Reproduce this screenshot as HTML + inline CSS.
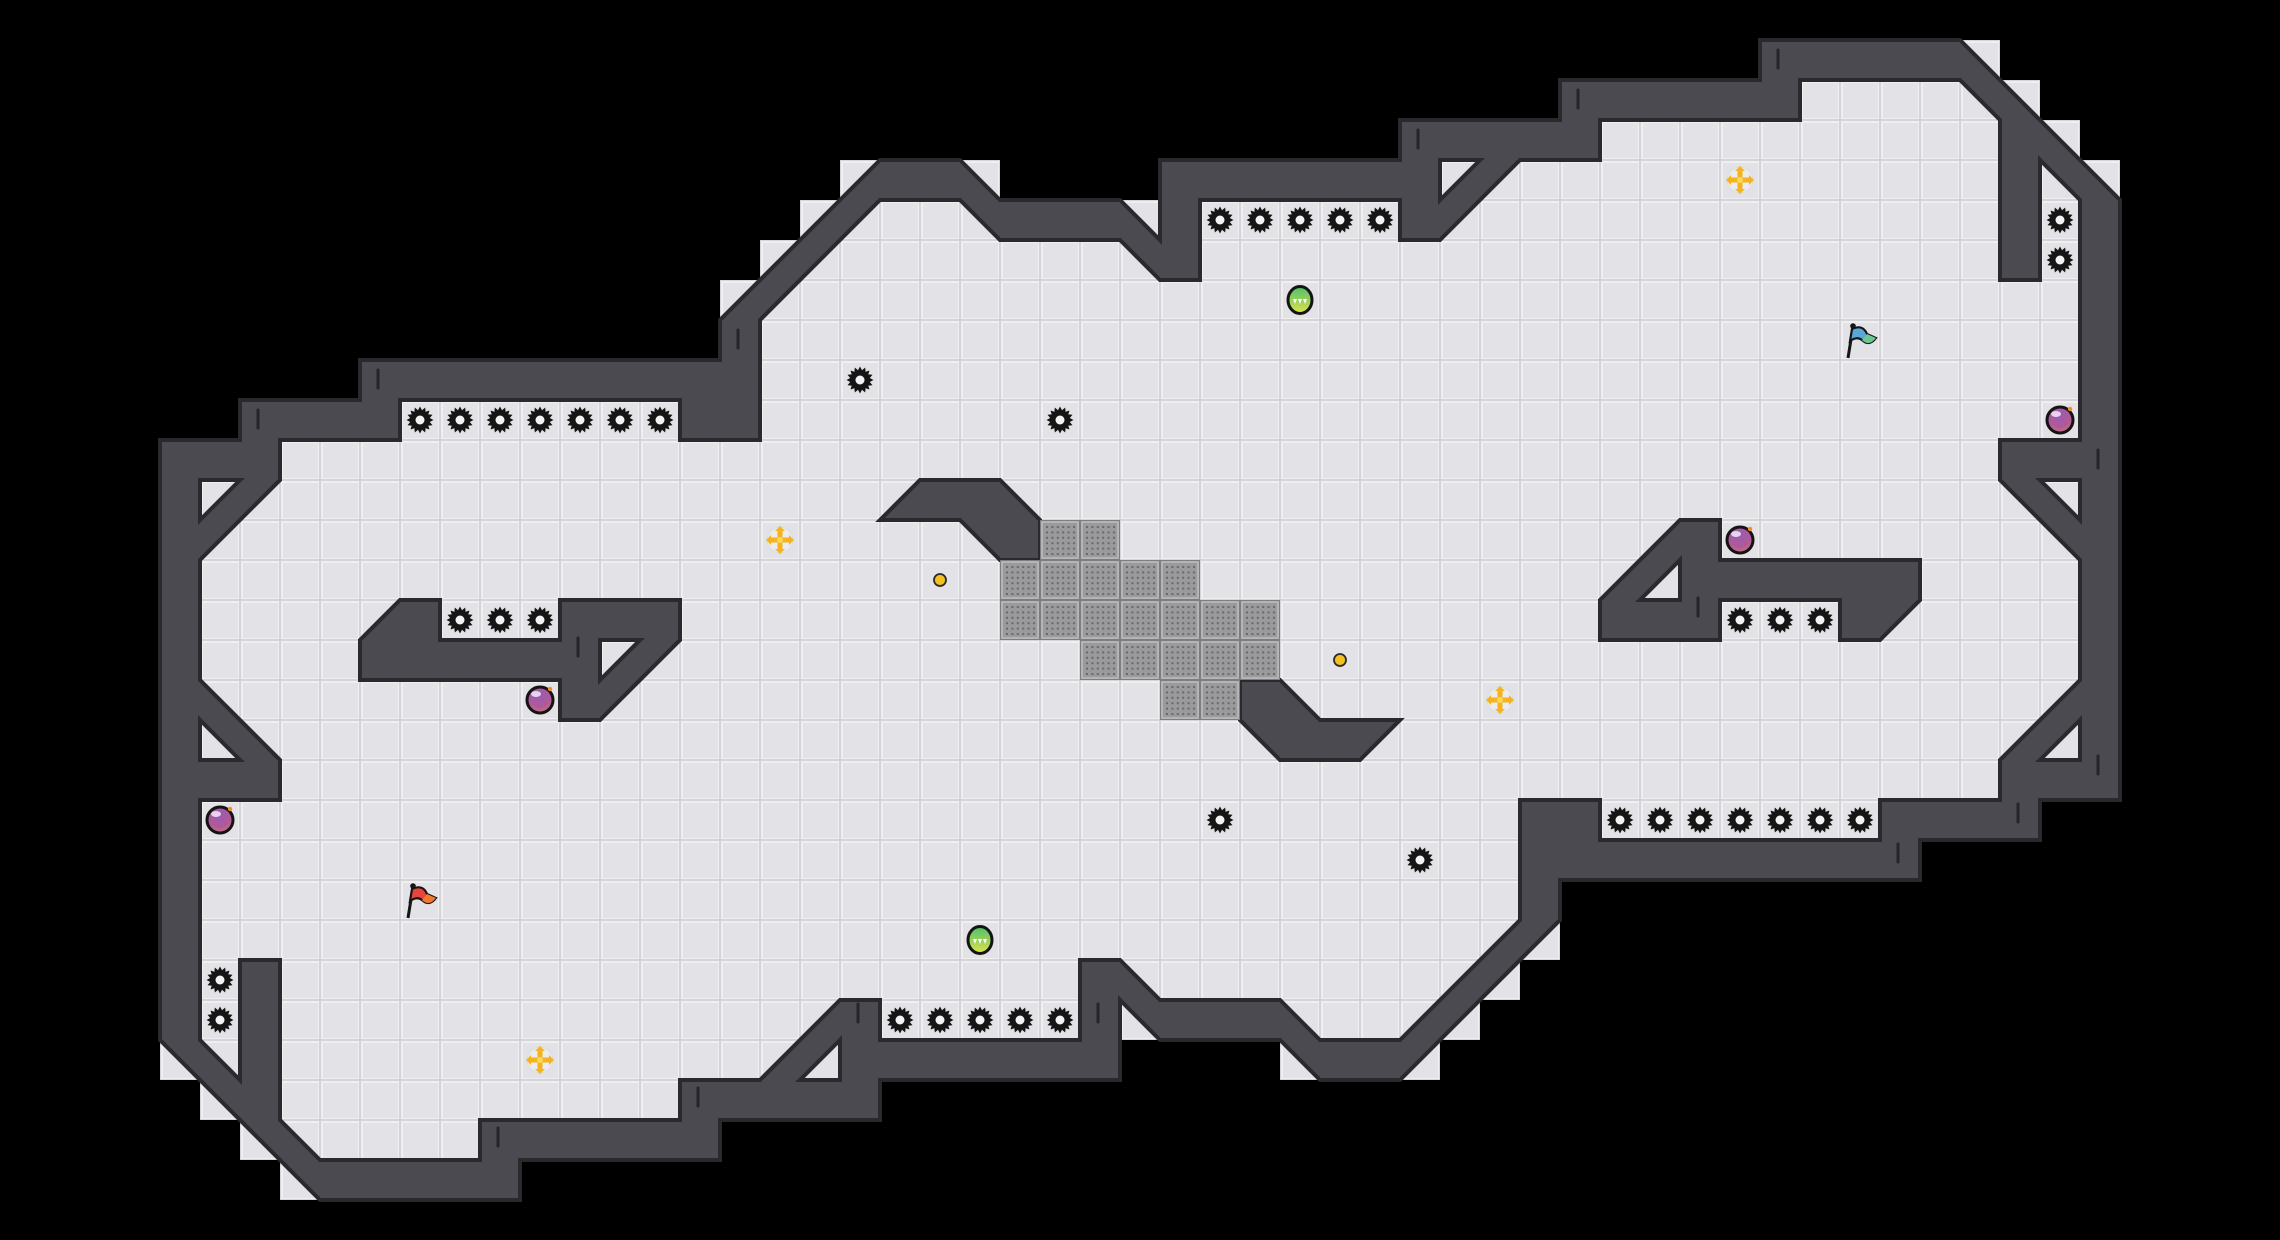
<!DOCTYPE html>
<html><head><meta charset="utf-8">
<style>
html,body{margin:0;padding:0;background:#000;}
#wrap{width:2280px;height:1240px;overflow:hidden;background:#000;}
</style></head>
<body><div id="wrap"></div>
<script>
var S=40;
var O=[[22,4],[24,4],[25,5],[28,5],[29,6],[29,4],[35,4],[35,3],[39,3],[39,2],[44,2],[44,1],[49,1],[53,5],[53,20],[51,20],[51,21],[48,21],[48,22],[39,22],[39,23],[35,27],[33,27],[32,26],[29,26],[28,25],[28,27],[22,27],[22,28],[18,28],[18,29],[13,29],[13,30],[8,30],[4,26],[4,11],[6,11],[6,10],[9,10],[9,9],[18,9],[18,8]];
var I=[[19,8],[22,5],[24,5],[25,6],[28,6],[29,7],[30,7],[30,5],[35,5],[35,6],[36,6],[38,4],[40,4],[40,3],[45,3],[45,2],[49,2],[50,3],[50,7],[51,7],[51,4],[52,5],[52,11],[50,11],[50,12],[52,14],[52,17],[50,19],[50,20],[47,20],[47,21],[40,21],[40,20],[38,20],[38,23],[35,26],[33,26],[32,25],[29,25],[28,24],[27,24],[27,26],[22,26],[22,25],[21,25],[19,27],[17,27],[17,28],[12,28],[12,29],[8,29],[7,28],[7,24],[6,24],[6,27],[5,26],[5,20],[7,20],[7,19],[5,17],[5,14],[7,12],[7,11],[10,11],[10,10],[17,10],[17,11],[19,11]];
var pockets=[[[5,12],[6,12],[5,13]],[[5,18],[5,19],[6,19]],[[36,4],[37,4],[36,5]],[[51,12],[52,12],[52,13]],[[51,19],[52,19],[52,18]],[[21,26],[21,27],[20,27]],[[15,16],[16,16],[15,17]],[[42,14],[42,15],[41,15]]];
var islands=[
[[9,16],[10,15],[11,15],[11,16],[14,16],[14,15],[17,15],[17,16],[15,18],[14,18],[14,17],[9,17]],
[[22,13],[23,12],[25,12],[26,13],[26,14],[25,14],[24,13]],
[[31,17],[32,17],[33,18],[35,18],[34,19],[32,19],[31,18]],
[[40,15],[42,13],[43,13],[43,14],[48,14],[48,15],[47,16],[46,16],[46,15],[43,15],[43,16],[40,16]]
];
function pts(p){return p.map(function(q){return (q[0]*S)+','+(q[1]*S);}).join(' ');}
function pathd(p){return 'M'+p.map(function(q){return (q[0]*S)+' '+(q[1]*S);}).join('L')+'Z';}
function inside(x,y,p){var c=false;for(var i=0,j=p.length-1;i<p.length;j=i++){var xi=p[i][0],yi=p[i][1],xj=p[j][0],yj=p[j][1];if(((yi>y)!=(yj>y))&&(x<(xj-xi)*(y-yi)/(yj-yi)+xi))c=!c;}return c;}
var s='<svg xmlns="http://www.w3.org/2000/svg" width="2280" height="1240" viewBox="0 0 2280 1240">';
s+='<defs>';
s+='<pattern id="fl" patternUnits="userSpaceOnUse" width="40" height="40"><rect width="40" height="40" fill="#d3d3d8"/><rect x="1" y="1" width="38" height="38" fill="#efeff1"/><rect x="3" y="3" width="35" height="35" fill="#e3e3e7"/></pattern>';
s+='<pattern id="gr" patternUnits="userSpaceOnUse" width="40" height="40"><rect width="40" height="40" fill="#7d7d80"/><rect x="1" y="1" width="38" height="38" fill="#b4b4b6"/><rect x="3" y="3" width="34" height="34" fill="#9a9a9c"/>';
for(var a=0;a<6;a++)for(var b=0;b<6;b++)s+='<rect x="'+(6+a*5.4)+'" y="'+(6+b*5.4)+'" width="2" height="2" fill="#6a6a6d"/>';
s+='</pattern>';
s+='<radialGradient id="bomb" cx="0.45" cy="0.3" r="0.8"><stop offset="0" stop-color="#9a5ab8"/><stop offset="0.6" stop-color="#b05a96"/><stop offset="1" stop-color="#d8806a"/></radialGradient>';
s+='<linearGradient id="coin" x1="0" y1="0" x2="0" y2="1"><stop offset="0" stop-color="#4cbf6a"/><stop offset="1" stop-color="#dfe348"/></linearGradient>';
s+='</defs>';
for(var cx=0;cx<57;cx++)for(var cy=0;cy<31;cy++){
 var off=[[0.2,0.2],[0.8,0.2],[0.2,0.8],[0.8,0.8],[0.5,0.5]],hit=false;
 for(var k=0;k<off.length;k++)if(inside(cx+off[k][0],cy+off[k][1],O)){hit=true;break;}
 if(hit)s+='<rect x="'+cx*S+'" y="'+cy*S+'" width="40" height="40" fill="url(#fl)"/>';
}
s+='<path d="'+pathd(O)+pathd(I)+'" fill="#4b4a50" fill-rule="evenodd" stroke="#2a292e" stroke-width="4" stroke-linejoin="miter"/>';
islands.forEach(function(p){s+='<polygon points="'+pts(p)+'" fill="#4b4a50" stroke="#2a292e" stroke-width="4"/>';});
pockets.forEach(function(p){s+='<polygon points="'+pts(p)+'" fill="url(#fl)" stroke="#2a292e" stroke-width="4"/>';});
[[44.45,1.25],[39.45,2.25],[35.45,3.25],[18.45,8.25],[9.45,9.25],[6.45,10.25],[52.45,11.25],[52.45,18.9],[50.45,20.1],[47.45,21.1],[42.45,14.95],[14.45,15.95],[27.45,25.1],[21.45,25.1],[17.45,27.2],[12.45,28.2]].forEach(function(t){
 s+='<line x1="'+t[0]*S+'" y1="'+t[1]*S+'" x2="'+t[0]*S+'" y2="'+(t[1]*S+18)+'" stroke="#252428" stroke-width="3" stroke-linecap="round"/>';});
var grates=[[26,13],[27,13],[25,14],[26,14],[27,14],[28,14],[29,14],[25,15],[26,15],[27,15],[28,15],[29,15],[30,15],[31,15],[27,16],[28,16],[29,16],[30,16],[31,16],[29,17],[30,17]];
grates.forEach(function(g){s+='<rect x="'+g[0]*S+'" y="'+g[1]*S+'" width="40" height="40" fill="url(#gr)"/>';});
function gear(cx,cy){var n=16,ro=13.5,ri=10,d='';for(var i=0;i<n*2;i++){var r=i%2?ri:ro,a=Math.PI*i/n;d+=(i?'L':'M')+(cx+r*Math.cos(a)).toFixed(1)+' '+(cy+r*Math.sin(a)).toFixed(1);}
 return '<path d="'+d+'Z" fill="#151515"/><circle cx="'+cx+'" cy="'+cy+'" r="4.5" fill="#f2f2f4"/>';}
var spikes=[];
for(var i=10;i<=16;i++)spikes.push([i,10]);
spikes.push([21,9],[26,10]);
for(i=30;i<=34;i++)spikes.push([i,5]);
spikes.push([51,5],[51,6]);
for(i=11;i<=13;i++)spikes.push([i,15]);
for(i=43;i<=45;i++)spikes.push([i,15]);
for(i=40;i<=46;i++)spikes.push([i,20]);
spikes.push([30,20],[35,21],[5,24],[5,25]);
for(i=22;i<=26;i++)spikes.push([i,25]);
spikes.forEach(function(p){s+=gear(p[0]*S+20,p[1]*S+20);});
function plus(cx,cy){return '<circle cx="'+cx+'" cy="'+cy+'" r="13" fill="#ececf0" stroke="#dcdce2" stroke-width="1.5"/>'+
 '<rect x="'+(cx-11)+'" y="'+(cy-2.5)+'" width="22" height="5" fill="#f5b41e"/><rect x="'+(cx-2.5)+'" y="'+(cy-11)+'" width="5" height="22" fill="#f5b41e"/>'+
 '<polygon points="'+(cx-14)+','+cy+' '+(cx-9)+','+(cy-5)+' '+(cx-9)+','+(cy+5)+'" fill="#f5b41e"/>'+
 '<polygon points="'+(cx+14)+','+cy+' '+(cx+9)+','+(cy-5)+' '+(cx+9)+','+(cy+5)+'" fill="#f5b41e"/>'+
 '<polygon points="'+cx+','+(cy-14)+' '+(cx-5)+','+(cy-9)+' '+(cx+5)+','+(cy-9)+'" fill="#f5b41e"/>'+
 '<polygon points="'+cx+','+(cy+14)+' '+(cx-5)+','+(cy+9)+' '+(cx+5)+','+(cy+9)+'" fill="#f5b41e"/>'+
 '<circle cx="'+cx+'" cy="'+cy+'" r="3" fill="#fcd85a"/>';}
[[19,13],[43,4],[37,17],[13,26]].forEach(function(p){s+=plus(p[0]*S+20,p[1]*S+20);});
function bomb(cx,cy){return '<circle cx="'+cx+'" cy="'+cy+'" r="13" fill="url(#bomb)" stroke="#141414" stroke-width="3"/>'+
 '<ellipse cx="'+(cx-4)+'" cy="'+(cy-6)+'" rx="5" ry="3" fill="#fff" opacity="0.75"/>'+
 '<circle cx="'+(cx+10)+'" cy="'+(cy-11)+'" r="2.2" fill="#f08a2a"/>';}
[[13,17],[51,10],[43,13],[5,20]].forEach(function(p){s+=bomb(p[0]*S+20,p[1]*S+20);});
function coin(cx,cy){return '<ellipse cx="'+cx+'" cy="'+cy+'" rx="12" ry="13.5" fill="url(#coin)" stroke="#141414" stroke-width="3"/>'+
 '<polygon points="'+(cx-7)+','+(cy-1)+' '+(cx-3)+','+(cy-1)+' '+(cx-5)+','+(cy+4)+'" fill="#fff"/>'+
 '<polygon points="'+(cx-2)+','+(cy-1)+' '+(cx+2)+','+(cy-1)+' '+cx+','+(cy+4)+'" fill="#fff"/>'+
 '<polygon points="'+(cx+3)+','+(cy-1)+' '+(cx+7)+','+(cy-1)+' '+(cx+5)+','+(cy+4)+'" fill="#fff"/>';}
[[32,7],[24,23]].forEach(function(p){s+=coin(p[0]*S+20,p[1]*S+20);});
[[23,14],[33,16]].forEach(function(p){s+='<circle cx="'+(p[0]*S+20)+'" cy="'+(p[1]*S+20)+'" r="6" fill="#f4c020" stroke="#2a2a2a" stroke-width="1.8"/>';});
function flag(cx,cy,c1,c2){return '<line x1="'+(cx-12)+'" y1="'+(cy+18)+'" x2="'+(cx-7)+'" y2="'+(cy-13)+'" stroke="#151515" stroke-width="3"/>'+
 '<path d="M'+(cx-8)+' '+(cy-11)+' Q'+(cx+3)+' '+(cy-16)+' '+(cx+7)+' '+(cy-6)+' L'+(cx+16)+' '+(cy-2)+' Q'+(cx+9)+' '+(cy+7)+' '+(cx+2)+' '+(cy)+' Q'+(cx-3)+' '+(cy-4)+' '+(cx-10)+' '+(cy+1)+' Z" fill="'+c1+'" stroke="#151515" stroke-width="2.2"/>'+
 '<path d="M'+(cx+7)+' '+(cy-6)+' L'+(cx+16)+' '+(cy-2)+' Q'+(cx+9)+' '+(cy+7)+' '+(cx+2)+' '+cy+' Z" fill="'+c2+'"/>'+
 '<circle cx="'+(cx-7)+'" cy="'+(cy-14)+'" r="2.8" fill="#151515"/>';}
s+=flag(10*S+20,22*S+20,'#e8443c','#f07a30');
s+=flag(46*S+20,8*S+20,'#5aa8d8','#6cc890');
s+='</svg>';
document.getElementById('wrap').innerHTML=s;
</script>
</body></html>
